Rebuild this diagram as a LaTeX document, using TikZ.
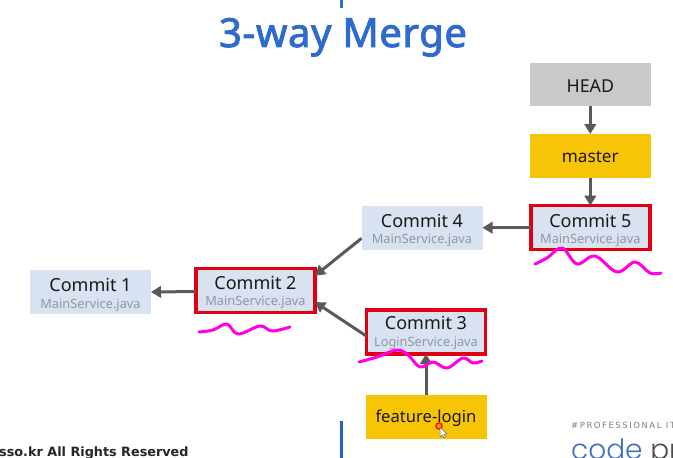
\documentclass[tikz,border=0pt]{standalone}
\usepackage{fontspec}
\setmainfont{Noto Sans}
\newfontfamily\titleface[FakeBold=2.2,LetterSpace=1.5]{Noto Sans}
\newfontfamily\wideface{DejaVu Sans}
\newfontfamily\logoface{Poppins Light}
\usetikzlibrary{arrows.meta}
\definecolor{commitfill}{HTML}{D9E2F0}
\definecolor{branchfill}{HTML}{F7C505}
\definecolor{headfill}{HTML}{C9CAC7}
\definecolor{markred}{HTML}{E0000F}
\definecolor{arrowgray}{HTML}{595959}
\definecolor{filegray}{HTML}{8E97A3}
\definecolor{titleblue}{HTML}{2F6BCD}
\definecolor{squiggle}{HTML}{FF00E6}
\newcommand{\commitlabel}[3][19pt]{{\rule{0pt}{#1}\fontsize{18}{18}\selectfont #2}\\[4.5pt]{\fontsize{12.8}{12.8}\selectfont\color{filegray} #3}}
\tikzset{
  x=1pt,y=-1pt,
  basebox/.style={inner sep=0pt,outer sep=0pt,align=center,text=black!90},
  commit/.style={basebox,fill=commitfill,minimum width=121pt,minimum height=44pt},
  picked/.style={basebox,fill=commitfill,draw=markred,line width=3.5pt,minimum width=119pt,minimum height=44pt},
  branch/.style={basebox,fill=branchfill,minimum width=121pt,minimum height=44pt,font=\fontsize{17.2}{17.2}\selectfont},
  headbox/.style={basebox,fill=headfill,minimum width=120.5pt,minimum height=43pt,font=\fontsize{17.8}{17.8}\selectfont},
  link/.style={draw=arrowgray,line width=3pt,-{Triangle[length=10pt,width=11.5pt]}},
  scribble/.style={draw=squiggle,line width=3pt,line cap=round,line join=round},
}
\begin{document}
\begin{tikzpicture}
\useasboundingbox (0,0) rectangle (673,458);
\clip (0,0) rectangle (673,458);
\fill[white] (0,0) rectangle (673,458);
% slide furniture
\fill[titleblue] (340,0) rectangle (343,8);
\fill[titleblue!90!black] (340,421) rectangle (343,458);
\node[anchor=base,inner sep=0pt,text=titleblue,font=\titleface\fontsize{40}{40}\selectfont] (title) at (343,47) {3-way Merge};
\node[anchor=base west,inner sep=0pt,text=black!85,font=\wideface\fontsize{12.8}{12.8}\selectfont\bfseries] (copy) at (-1,456.5) {sso.kr All Rights Reserved};
\node[anchor=base west,inner sep=0pt,text=black!50,font=\wideface\fontsize{8.5}{8.5}\selectfont] (tag) at (571,428) {\addfontfeature{LetterSpace=18}\#PROFESSIONAL IT I};
\node[anchor=base west,inner sep=0pt,font=\logoface\fontsize{28}{28}\selectfont] (logo) at (571,459) {\textcolor{titleblue!80!gray}{code} \textcolor{black!70}{pr}};
% nodes
\node[headbox] (head) at (590.3,84.5) {\rule{0pt}{16pt}HEAD};
\node[branch] (master) at (590.3,156) {\rule{0pt}{14pt}master};
\node[picked] (c5) at (590.3,227.7) {\commitlabel{Commit 5}{MainService.java}};
\node[commit] (c4) at (422,227.7) {\commitlabel{Commit 4}{MainService.java}};
\node[picked] (c3) at (426,332) {\commitlabel[15pt]{Commit 3}{LoginService.java}};
\node[branch,font=\fontsize{16.6}{16.6}\selectfont] (feature) at (426,416.5) {\rule{0pt}{16pt}feature-login};
\node[picked] (c2) at (255.5,290.5) {\commitlabel[17.5pt]{Commit 2}{MainService.java}};
\node[commit] (c1) at (90.5,292) {\commitlabel{Commit 1}{MainService.java}};
% connectors
\path[link] (head.south) -- (master.north);
\path[link] (master.south) -- (c5.north);
\path[link] (c5.west) -- (c4.east);
\path[link] (c4.190) -- (c2.14);
\path[link] (c3.184) -- (c2.-11);
\path[link] (c2.181.5) -- (c1.east);
\path[link] (feature.north) -- (c3.south);
% highlighter strokes
\draw[scribble] plot[smooth,tension=0.6] coordinates {(535,264)(547,258)(562,248)(577,264)(595,256)(617,272)(635,262)(650,273)(661,273)};
\draw[scribble] plot[smooth,tension=0.6] coordinates {(359,362)(377,357)(397,350)(408,355)(420,367)(433,362)(447,368)(463,358)(473,363)(482,361)};
\draw[scribble] plot[smooth,tension=0.6] coordinates {(199,332)(213,330)(227,324)(238,334)(260,326)(272,331)(290,327)};
% pointer
\draw[red!80!orange,line width=1.6pt,fill=orange!70!yellow] (439,426) circle (3pt);
\draw[fill=white,draw=black!60,line width=0.5pt,line join=round] (440,427) -- (440,437) -- (442.5,435) -- (444,438) -- (445.5,437) -- (444,434) -- (447,434) -- cycle;
\end{tikzpicture}
\end{document}
